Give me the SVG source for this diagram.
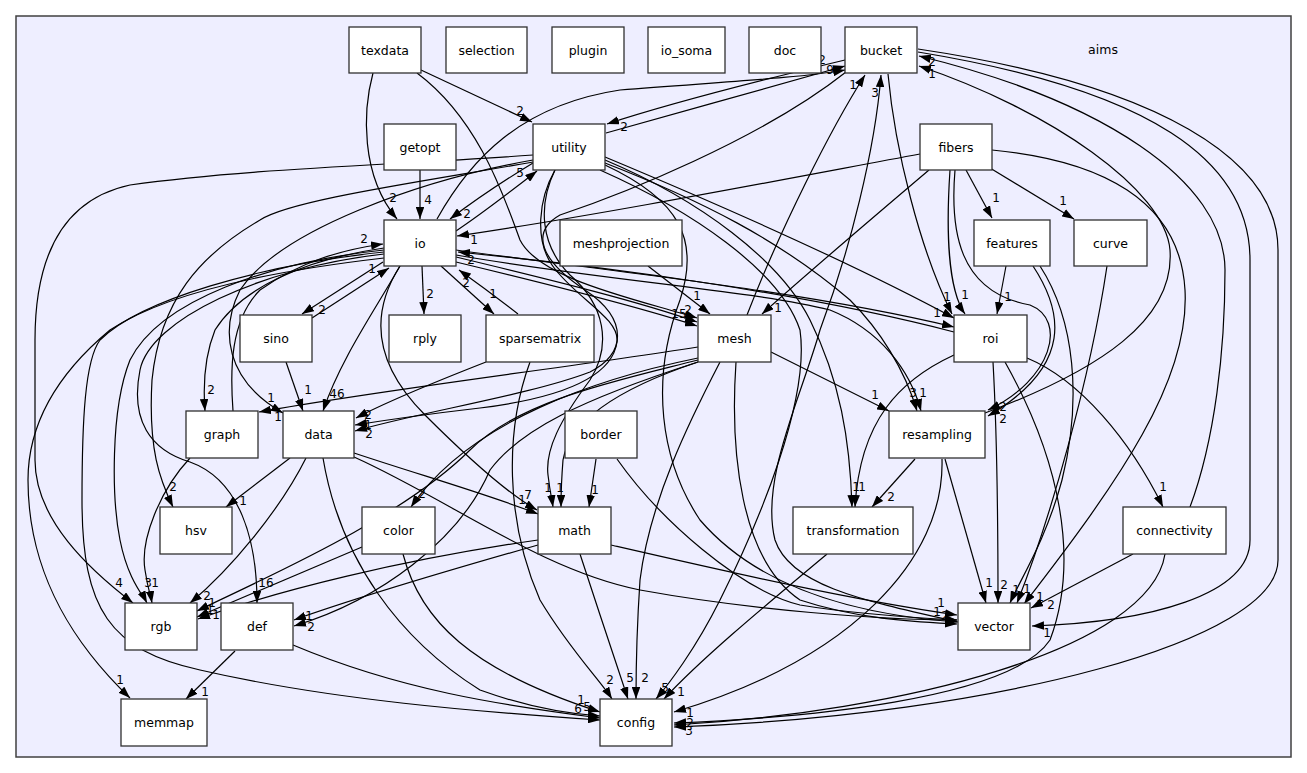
<svg xmlns="http://www.w3.org/2000/svg" width="1307" height="773" viewBox="0 0 1307 773">
<style>
.cl{fill:#eeeeff;stroke:#404040;stroke-width:1.5}
.n rect{fill:#ffffff;stroke:#303030;stroke-width:1.3}
.n text,.lb{font-family:"DejaVu Sans",sans-serif;font-size:12.5px;fill:#000;text-anchor:middle}
.e path{fill:none;stroke:#000;stroke-width:1.2;marker-end:url(#ah)}
.e text{font-family:"DejaVu Sans",sans-serif;font-size:12px;fill:#000;text-anchor:middle}
</style>
<defs>
<marker id="ah" viewBox="0 0 12 8.5" refX="12" refY="4.25" markerWidth="12" markerHeight="8.5" markerUnits="userSpaceOnUse" orient="auto"><path d="M0,0 L12,4.25 L0,8.5 z" fill="#000"/></marker>
</defs>
<rect width="1307" height="773" fill="#ffffff"/>
<g id="cluster-aims">
<rect class="cl" x="16" y="16" width="1275" height="741"/>
<text class="lb" x="1103" y="54">aims</text>
</g>
<g class="e" id="edges">
<path d="M373,73 C363,110 360,175 397,219"/><text x="393" y="202">2</text>
<path d="M421,70 L532,122"/><text x="520" y="115">2</text>
<path d="M417,73 C480,120 505,200 520,240 C540,280 640,300 697,318"/>
<path d="M420,170 L420,219"/><text x="428" y="204">4</text>
<path d="M533,163 C505,180 475,200 450,219"/><text x="467" y="218">2</text>
<path d="M456,231 C480,215 510,192 537,171"/><text x="520" y="177">5</text>
<path d="M920,154 C780,180 600,215 457,236"/><text x="474" y="244">1</text>
<path d="M437,219 C470,160 520,105 620,90 C720,82 800,78 845,70"/><text x="822" y="64">2</text>
<path d="M606,133 C680,112 780,85 845,66"/><text x="830" y="74">9</text>
<path d="M845,60 C770,78 680,100 607,124"/><text x="624" y="131">2</text>
<path d="M846,72 C760,140 620,195 560,215 C530,232 540,260 585,290 C630,320 625,355 590,372 C530,395 420,412 355,431"/><text x="369" y="438">2</text>
<path d="M747,315 C780,230 830,130 865,75"/><text x="853" y="89">1</text>
<path d="M958,622 C860,600 790,585 775,540 C760,480 800,400 820,330 C850,250 875,150 881,75"/><text x="875" y="97">3</text>
<path d="M888,74 C895,150 920,250 952,314"/><text x="947" y="301">1</text>
<path d="M985,413 C1100,370 1175,320 1170,250 C1165,190 1050,110 919,66"/><text x="932" y="78">1</text>
<path d="M1190,507 C1215,440 1225,350 1225,270 C1225,180 1100,100 919,56"/><text x="932" y="66">2</text>
<path d="M918,52 C1150,90 1250,160 1250,260 L1250,540 C1250,595 1150,622 1032,626"/><text x="1047" y="637">1</text>
<path d="M918,49 C1160,85 1278,160 1278,250 L1278,560 C1278,640 1000,715 674,727"/><text x="689" y="735">3</text>
<path d="M966,170 L992,218"/><text x="996" y="202">1</text>
<path d="M990,168 L1074,219"/><text x="1063" y="205">1</text>
<path d="M929,170 C870,220 800,280 762,314"/><text x="778" y="312">1</text>
<path d="M950,170 C946,230 948,290 965,314"/><text x="965" y="299">1</text>
<path d="M955,170 C950,230 958,292 1030,305 C1068,320 1052,380 988,410"/><text x="1003" y="411">2</text>
<path d="M1033,266 C1062,310 1075,365 988,416"/><text x="1003" y="423">2</text>
<path d="M1006,266 L997,314"/><text x="1008" y="301">1</text>
<path d="M1040,266 C1075,320 1082,400 1062,480 C1046,540 1020,580 1010,603"/><text x="1016" y="594">1</text>
<path d="M1107,266 C1090,380 1050,520 1017,603"/><text x="1027" y="593">1</text>
<path d="M992,150 C1100,160 1180,200 1185,290 C1190,380 1120,480 1024,604"/><text x="1040" y="601">1</text>
<path d="M1133,554 L1031,608"/><text x="1051" y="609">2</text>
<path d="M993,362 C998,450 998,540 998,603"/><text x="1004" y="589">2</text>
<path d="M945,459 L986,603"/><text x="989" y="587">1</text>
<path d="M1027,358 C1080,380 1130,440 1163,507"/><text x="1163" y="491">1</text>
<path d="M954,355 C900,380 860,420 855,507"/><text x="856" y="491">1</text>
<path d="M605,160 C700,200 780,260 810,320 C840,380 850,440 852,507"/><text x="862" y="491">1</text>
<path d="M915,459 L872,507"/><text x="891" y="501">2</text>
<path d="M1005,362 C1060,460 1080,560 1050,640 C1010,700 800,718 674,723"/><text x="690" y="727">2</text>
<path d="M1165,554 C1150,650 900,712 674,725"/>
<path d="M942,459 C945,560 850,660 674,712"/><text x="690" y="717">1</text>
<path d="M827,554 C760,610 700,660 664,699"/><text x="681" y="696">1</text>
<path d="M771,352 L889,411"/><text x="875" y="399">1</text>
<path d="M605,163 C700,200 780,240 850,300 C880,330 905,370 917,411"/><text x="913" y="397">3</text>
<path d="M456,255 C600,280 750,290 830,310 C880,330 910,370 921,411"/><text x="923" y="397">1</text>
<path d="M605,157 C720,205 850,262 954,318"/><text x="937" y="317">1</text>
<path d="M456,250 C600,270 800,290 954,327"/>
<path d="M954,332 C800,292 600,266 458,252"/><text x="471" y="264">2</text>
<path d="M456,257 C560,282 640,302 697,322"/><text x="679" y="318">15</text>
<path d="M456,262 C560,287 640,307 697,326"/><text x="688" y="314">2</text>
<path d="M648,266 L710,314"/><text x="697" y="300">1</text>
<path d="M400,266 C375,310 340,360 323,411"/><text x="337" y="398">46</text>
<path d="M286,362 L303,411"/><text x="308" y="394">1</text>
<path d="M383,262 L302,314"/><text x="322" y="314">2</text>
<path d="M312,318 L389,268"/><text x="372" y="273">1</text>
<path d="M422,266 L424,314"/><text x="430" y="298">2</text>
<path d="M441,266 L494,314"/><text x="493" y="298">1</text>
<path d="M518,314 C500,300 480,285 459,270"/><text x="466" y="287">2</text>
<path d="M486,362 C440,380 390,400 356,418"/><text x="368" y="419">2</text>
<path d="M555,170 C538,200 535,240 552,265 C575,298 620,318 617,342 C612,378 560,398 480,408 C420,415 380,421 355,425"/><text x="368" y="429">1</text>
<path d="M698,347 C550,370 380,390 259,412"/><text x="271" y="402">1</text>
<path d="M533,160 C420,180 280,230 240,290 C220,330 225,380 283,413"/><text x="278" y="421">1</text>
<path d="M384,248 C300,260 240,290 215,330 C205,355 203,385 205,411"/><text x="211" y="394">2</text>
<path d="M233,411 C230,370 230,320 260,290 C300,262 340,250 383,244"/><text x="364" y="243">2</text>
<path d="M533,155 C400,165 250,168 130,185 C60,200 35,260 35,340 L35,460 C35,520 90,570 133,603"/><text x="119" y="587">4</text>
<path d="M384,258 C280,270 170,290 110,330 C50,380 28,430 28,480 C28,580 80,650 130,698"/><text x="120" y="684">1</text>
<path d="M384,252 C260,265 140,300 100,340 C85,360 82,420 82,500 C82,610 110,650 200,670 C330,700 480,712 600,720"/><text x="578" y="713">6</text>
<path d="M384,250 C270,262 160,300 130,360 C110,410 112,500 120,540 C128,580 143,595 147,603"/><text x="148" y="587">3</text>
<path d="M533,162 C420,182 290,200 260,220 C200,255 160,300 152,380 C148,450 160,480 173,507"/><text x="173" y="491">2</text>
<path d="M190,458 C160,490 140,540 145,570 C148,590 151,597 152,603"/><text x="155" y="587">1</text>
<path d="M384,254 C260,268 150,320 140,370 C130,420 150,450 190,462 C240,480 257,540 257,603"/><text x="266" y="587">16</text>
<path d="M290,458 L226,507"/><text x="243" y="505">1</text>
<path d="M306,458 C280,510 230,570 190,603"/><text x="207" y="600">2</text>
<path d="M698,360 C620,380 520,400 470,450 C400,520 260,580 197,611"/><text x="212" y="607">1</text>
<path d="M362,547 L197,617"/><text x="210" y="614">1</text>
<path d="M538,540 C400,560 280,590 198,619"/><text x="216" y="619">1</text>
<path d="M538,545 C450,570 350,600 294,620"/><text x="309" y="620">1</text>
<path d="M698,362 C580,400 520,430 490,470 C460,540 380,600 294,626"/><text x="311" y="631">2</text>
<path d="M698,358 C600,378 470,420 411,507"/><text x="422" y="498">2</text>
<path d="M555,170 C538,205 540,245 570,275 C605,305 612,345 590,380 C560,420 545,450 548,475 C550,492 552,500 553,507"/><text x="548" y="492">1</text>
<path d="M698,362 C620,388 570,420 563,460 C561,485 561,498 561,507"/><text x="560" y="492">1</text>
<path d="M400,266 C372,310 370,360 425,415 C470,460 510,495 537,510"/><text x="528" y="499">7</text>
<path d="M354,453 C420,475 490,495 538,514"/><text x="522" y="504">1</text>
<path d="M596,459 L589,507"/><text x="595" y="494">1</text>
<path d="M611,545 C720,570 850,600 957,615"/><text x="941" y="607">1</text>
<path d="M580,554 C595,600 615,660 628,699"/><text x="630" y="682">5</text>
<path d="M354,457 C450,500 540,570 640,590 C750,610 880,620 957,620"/><text x="937" y="616">1</text>
<path d="M617,459 C660,520 740,590 800,605 C860,615 920,618 957,620"/><text x="945" y="620">2</text>
<path d="M736,362 C730,450 740,560 800,600 C860,620 920,622 957,624"/>
<path d="M605,165 C680,200 700,240 680,300 C650,380 660,460 700,520 C760,590 860,615 957,622"/>
<path d="M720,362 C690,420 650,500 640,580 C636,640 636,680 636,699"/><text x="645" y="682">2</text>
<path d="M530,362 C505,430 505,520 540,600 C570,650 600,680 612,699"/><text x="610" y="684">2</text>
<path d="M600,170 C690,210 780,270 800,330 C810,400 760,520 720,600 C695,650 668,685 656,699"/><text x="665" y="692">5</text>
<path d="M323,458 C340,560 400,640 480,690 C530,708 570,714 600,716"/><text x="587" y="711">5</text>
<path d="M403,554 C420,620 470,670 600,712"/><text x="581" y="704">1</text>
<path d="M293,645 C400,690 500,705 600,718"/>
<path d="M235,651 L186,699"/><text x="205" y="696">1</text>
</g>
<g class="n" id="node-texdata"><rect x="349" y="27" width="72" height="46"/><text x="385" y="54.5">texdata</text></g>
<g class="n" id="node-selection"><rect x="446" y="27" width="81" height="46"/><text x="486.5" y="54.5">selection</text></g>
<g class="n" id="node-plugin"><rect x="552" y="27" width="72" height="46"/><text x="588" y="54.5">plugin</text></g>
<g class="n" id="node-io_soma"><rect x="648" y="27" width="77" height="46"/><text x="686.5" y="54.5">io_soma</text></g>
<g class="n" id="node-doc"><rect x="749" y="27" width="72" height="46"/><text x="785" y="54.5">doc</text></g>
<g class="n" id="node-bucket"><rect x="845" y="27" width="72" height="46"/><text x="881" y="54.5">bucket</text></g>
<g class="n" id="node-getopt"><rect x="384" y="124" width="72" height="46"/><text x="420" y="151.5">getopt</text></g>
<g class="n" id="node-utility"><rect x="533" y="124" width="72" height="46"/><text x="569" y="151.5">utility</text></g>
<g class="n" id="node-fibers"><rect x="920" y="124" width="72" height="46"/><text x="956" y="151.5">fibers</text></g>
<g class="n" id="node-io"><rect x="384" y="220" width="72" height="46"/><text x="420" y="247.5">io</text></g>
<g class="n" id="node-meshprojection"><rect x="560" y="220" width="122" height="46"/><text x="621" y="247.5">meshprojection</text></g>
<g class="n" id="node-features"><rect x="974" y="220" width="76" height="46"/><text x="1012" y="247.5">features</text></g>
<g class="n" id="node-curve"><rect x="1074" y="220" width="73" height="46"/><text x="1110.5" y="247.5">curve</text></g>
<g class="n" id="node-sino"><rect x="240" y="315" width="72" height="47"/><text x="276" y="343">sino</text></g>
<g class="n" id="node-rply"><rect x="389" y="315" width="72" height="47"/><text x="425" y="343">rply</text></g>
<g class="n" id="node-sparsematrix"><rect x="486" y="315" width="108" height="47"/><text x="540" y="343">sparsematrix</text></g>
<g class="n" id="node-mesh"><rect x="698" y="315" width="73" height="47"/><text x="734.5" y="343">mesh</text></g>
<g class="n" id="node-roi"><rect x="954" y="315" width="73" height="47"/><text x="990.5" y="343">roi</text></g>
<g class="n" id="node-graph"><rect x="186" y="411" width="72" height="47"/><text x="222" y="439">graph</text></g>
<g class="n" id="node-data"><rect x="283" y="411" width="71" height="47"/><text x="318.5" y="439">data</text></g>
<g class="n" id="node-border"><rect x="565" y="411" width="72" height="47"/><text x="601" y="439">border</text></g>
<g class="n" id="node-resampling"><rect x="889" y="411" width="96" height="47"/><text x="937" y="439">resampling</text></g>
<g class="n" id="node-hsv"><rect x="160" y="507" width="72" height="47"/><text x="196" y="535">hsv</text></g>
<g class="n" id="node-color"><rect x="362" y="507" width="73" height="47"/><text x="398.5" y="535">color</text></g>
<g class="n" id="node-math"><rect x="538" y="507" width="73" height="47"/><text x="574.5" y="535">math</text></g>
<g class="n" id="node-transformation"><rect x="793" y="507" width="120" height="47"/><text x="853" y="535">transformation</text></g>
<g class="n" id="node-connectivity"><rect x="1123" y="507" width="103" height="47"/><text x="1174.5" y="535">connectivity</text></g>
<g class="n" id="node-rgb"><rect x="125" y="603" width="72" height="47"/><text x="161" y="631">rgb</text></g>
<g class="n" id="node-def"><rect x="221" y="603" width="72" height="47"/><text x="257" y="631">def</text></g>
<g class="n" id="node-vector"><rect x="958" y="603" width="72" height="47"/><text x="994" y="631">vector</text></g>
<g class="n" id="node-memmap"><rect x="121" y="699" width="86" height="47"/><text x="164" y="727">memmap</text></g>
<g class="n" id="node-config"><rect x="600" y="699" width="72" height="47"/><text x="636" y="727">config</text></g>
</svg>
